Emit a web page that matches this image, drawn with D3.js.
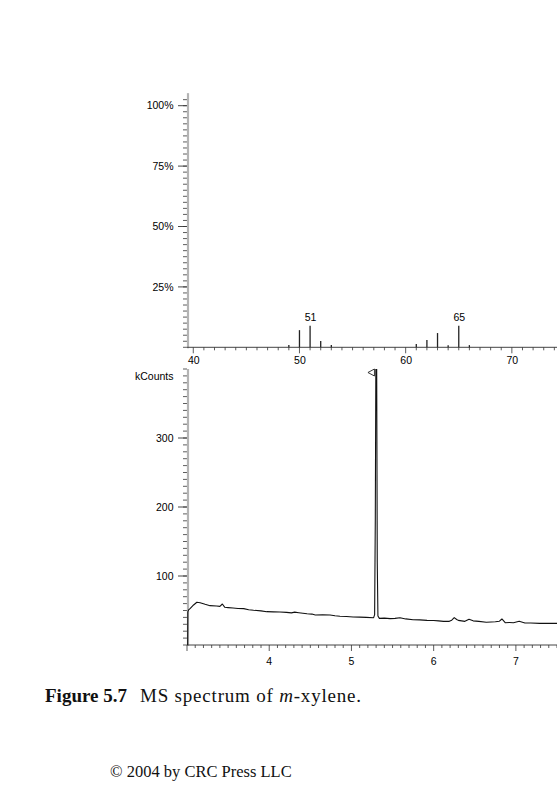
<!DOCTYPE html>
<html lang="en">
<head>
    <meta charset="UTF-8">
    <title>MS spectrum of m-xylene</title>
    <script src="https://d3js.org/d3.v7.min.js"></script>
    <style>
        body { margin: 0; background: #fff; }
        svg text { font-family: "Liberation Sans", Arial, sans-serif; font-size: 10.5px; fill: #000; }
        .caption { font-family: "Liberation Serif", "Times New Roman", serif; font-size: 19px; fill: #111; }
    </style>
</head>
<body>
    <div id="chart"></div>
    <script>

// mass spectrum (top panel)
var mzValues = [49, 50, 51, 52, 53, 61, 62, 63, 64, 65, 66];
var intensities = [1.0, 7.1, 8.9, 2.6, 1.0, 1.4, 3.0, 5.9, 0.9, 8.9, 0.9];
var labelledPeaks = [51, 65];
var mzTicks = [40, 50, 60, 70];
var pctTicks = [25, 50, 75, 100];

// chromatogram (bottom panel), minutes vs kCounts
var times = [3.008, 3.01, 3.02, 3.04, 3.08, 3.12, 3.16, 3.22, 3.28, 3.36, 3.40, 3.43, 3.46, 3.50,
    3.56, 3.62, 3.69, 3.75, 3.81, 3.90, 3.97, 4.05, 4.13, 4.21, 4.27, 4.31, 4.36, 4.46, 4.52, 4.56,
    4.65, 4.74, 4.80, 4.86, 4.94, 5.02, 5.10, 5.18, 5.27, 5.282, 5.29, 5.298, 5.306, 5.314, 5.322,
    5.34, 5.40, 5.47, 5.53, 5.59, 5.66, 5.75, 5.83, 5.92, 6.00, 6.06, 6.12, 6.19, 6.22, 6.25, 6.28,
    6.30, 6.38, 6.43, 6.48, 6.55, 6.64, 6.70, 6.75, 6.80, 6.83, 6.87, 6.92, 6.97, 7.04, 7.11,
    7.18, 7.29, 7.38, 7.50];
var kCounts = [0, 48, 51, 53, 58, 61.9, 61.3, 59, 57, 56.5, 56, 59.4, 54.6, 54.2,
    53.6, 53.0, 52.7, 51.2, 50.3, 49.5, 48.3, 48.0, 47.8, 47.3, 46.6, 47.6, 46.8, 45.4, 44.8, 43.5,
    43.8, 43.5, 42.4, 41.6, 41.3, 40.6, 40.4, 40.1, 39.6, 44, 180, 440, 440, 120, 42,
    38.6, 38.9, 38.2, 38.6, 39.6, 37.8, 36.7, 36.4, 35.7, 35.5, 35.0, 34.3, 34.3, 36.0, 39.6, 37.0,
    35.7, 34.3, 37.2, 35.0, 34.2, 32.9, 33.4, 33.8, 34.5, 37.7, 32.3, 32.6, 32.3, 34.3, 31.9,
    31.8, 31.4, 31.6, 31.4];
var peakTime = 5.298;
var timeTicks = [4, 5, 6, 7];
var countTicks = [100, 200, 300];

var width = 557, height = 800;
var svg = d3.select('#chart').append('svg')
    .attr('width', width)
    .attr('height', height);

var axisGray = '#b4b4b4';
var left = 187, right = 557;

// ---------- top panel ----------
var xMz = d3.scaleLinear().domain([39.41, 74.25]).range([left, right]);
var yPct = d3.scaleLinear().domain([0, 100]).range([347.3, 105.7]);

var msPanel = svg.append('g');

// minor ticks on y
msPanel.selectAll('line.ymin')
    .data(d3.range(0, 105, 2.5))
    .enter().append('line')
    .attr('x1', left - 4).attr('x2', left)
    .attr('y1', function(d) { return yPct(d); })
    .attr('y2', function(d) { return yPct(d); })
    .attr('stroke', '#333').attr('stroke-width', 0.8);

msPanel.selectAll('line.ymaj')
    .data(pctTicks)
    .enter().append('line')
    .attr('x1', left - 9).attr('x2', left)
    .attr('y1', function(d) { return yPct(d); })
    .attr('y2', function(d) { return yPct(d); })
    .attr('stroke', '#333').attr('stroke-width', 0.9);

msPanel.selectAll('text.ylab')
    .data(pctTicks)
    .enter().append('text')
    .attr('x', 173.5)
    .attr('y', function(d) { return yPct(d) + 3.7; })
    .attr('text-anchor', 'end')
    .text(function(d) { return d + '%'; });

msPanel.append('line')
    .attr('x1', left + 1).attr('x2', left + 1)
    .attr('y1', yPct(105.2)).attr('y2', yPct(0) + 1)
    .attr('stroke', axisGray).attr('stroke-width', 2.2);

// x axis
msPanel.append('line')
    .attr('x1', left).attr('x2', right)
    .attr('y1', yPct(0)).attr('y2', yPct(0))
    .attr('stroke', '#444').attr('stroke-width', 1);

msPanel.selectAll('line.xmin')
    .data(d3.range(40, 75, 1))
    .enter().append('line')
    .attr('x1', function(d) { return xMz(d); })
    .attr('x2', function(d) { return xMz(d); })
    .attr('y1', yPct(0)).attr('y2', function(d) { return yPct(0) + (d % 10 === 0 ? 6 : 3); })
    .attr('stroke', '#333').attr('stroke-width', 0.8);

msPanel.selectAll('text.xlab')
    .data(mzTicks)
    .enter().append('text')
    .attr('x', function(d) { return xMz(d) + 0.5; })
    .attr('y', 363.5)
    .attr('text-anchor', 'middle')
    .text(function(d) { return d; });

// peaks
msPanel.selectAll('line.peak')
    .data(mzValues)
    .enter().append('line')
    .attr('x1', function(d) { return xMz(d); })
    .attr('x2', function(d) { return xMz(d); })
    .attr('y1', yPct(0))
    .attr('y2', function(d, i) { return yPct(intensities[i]); })
    .attr('stroke', '#222').attr('stroke-width', 1.3);

msPanel.selectAll('text.peaklab')
    .data(labelledPeaks)
    .enter().append('text')
    .attr('x', function(d) { return xMz(d) + 0.5; })
    .attr('y', function(d) { return yPct(intensities[mzValues.indexOf(d)]) - 5; })
    .attr('text-anchor', 'middle')
    .text(function(d) { return d; });

// ---------- bottom panel ----------
var xTime = d3.scaleLinear().domain([3, 7.5]).range([left, right]);
var yK = d3.scaleLinear().domain([0, 400]).range([645, 369]);

var tic = svg.append('g');

tic.selectAll('line.ymin')
    .data(d3.range(0, 401, 10))
    .enter().append('line')
    .attr('x1', left - 4).attr('x2', left)
    .attr('y1', function(d) { return yK(d); })
    .attr('y2', function(d) { return yK(d); })
    .attr('stroke', '#333').attr('stroke-width', 0.8);

tic.selectAll('line.ymaj')
    .data(countTicks)
    .enter().append('line')
    .attr('x1', left - 9).attr('x2', left)
    .attr('y1', function(d) { return yK(d); })
    .attr('y2', function(d) { return yK(d); })
    .attr('stroke', '#333').attr('stroke-width', 0.9);

tic.selectAll('text.ylab')
    .data(countTicks)
    .enter().append('text')
    .attr('x', 173.5)
    .attr('y', function(d) { return yK(d) + 3.7; })
    .attr('text-anchor', 'end')
    .text(function(d) { return d; });

tic.append('text')
    .attr('x', 173.5)
    .attr('y', yK(400) + 10.5)
    .attr('text-anchor', 'end')
    .text('kCounts');

tic.append('line')
    .attr('x1', left + 1).attr('x2', left + 1)
    .attr('y1', yK(400)).attr('y2', yK(0) + 1)
    .attr('stroke', axisGray).attr('stroke-width', 2.2);

tic.append('line')
    .attr('x1', left).attr('x2', right)
    .attr('y1', yK(0)).attr('y2', yK(0))
    .attr('stroke', '#444').attr('stroke-width', 1);

tic.selectAll('line.xmin')
    .data(d3.range(30, 76, 1))
    .enter().append('line')
    .attr('x1', function(d) { return xTime(d / 10); })
    .attr('x2', function(d) { return xTime(d / 10); })
    .attr('y1', yK(0)).attr('y2', function(d) { return yK(0) + (d % 10 === 0 ? 6 : 3); })
    .attr('stroke', '#333').attr('stroke-width', 0.8);

tic.selectAll('text.xlab')
    .data(timeTicks)
    .enter().append('text')
    .attr('x', function(d) { return xTime(d); })
    .attr('y', 664.5)
    .attr('text-anchor', 'middle')
    .text(function(d) { return d; });

svg.append('clipPath').attr('id', 'plotclip')
    .append('rect')
    .attr('x', left - 1).attr('y', yK(400))
    .attr('width', right - left + 1).attr('height', yK(0) - yK(400) + 1);

var line = d3.line()
    .x(function(d, i) { return xTime(times[i]); })
    .y(function(d) { return yK(d); });

tic.append('path')
    .datum(kCounts)
    .attr('clip-path', 'url(#plotclip)')
    .attr('fill', 'none')
    .attr('stroke', '#111')
    .attr('stroke-width', 1.1)
    .attr('stroke-linejoin', 'round')
    .attr('d', line);

// marker at the apex of the peak
var mx = xTime(peakTime) - 1.5, my = yK(400);
tic.append('path')
    .attr('d', 'M' + mx + ',' + my + 'L' + (mx - 6.5) + ',' + (my + 3.5) + 'L' + mx + ',' + (my + 7) + 'Z')
    .attr('fill', 'none')
    .attr('stroke', '#222')
    .attr('stroke-width', 0.9);

// caption
var cap = svg.append('text')
    .attr('class', 'caption')
    .attr('x', 45)
    .attr('y', 702);
cap.append('tspan').attr('font-weight', 'bold').text('Figure 5.7');
var capText = cap.append('tspan').attr('x', 140).style('letter-spacing', '0.8px');
capText.append('tspan').text('MS spectrum of ');
capText.append('tspan').attr('font-style', 'italic').text('m');
capText.append('tspan').text('-xylene.');

svg.append('text')
    .attr('class', 'caption')
    .attr('x', 110)
    .attr('y', 777)
    .style('font-size', '16.5px')
    .text('\u00A9 2004 by CRC Press LLC');

    </script>
</body>
</html>
